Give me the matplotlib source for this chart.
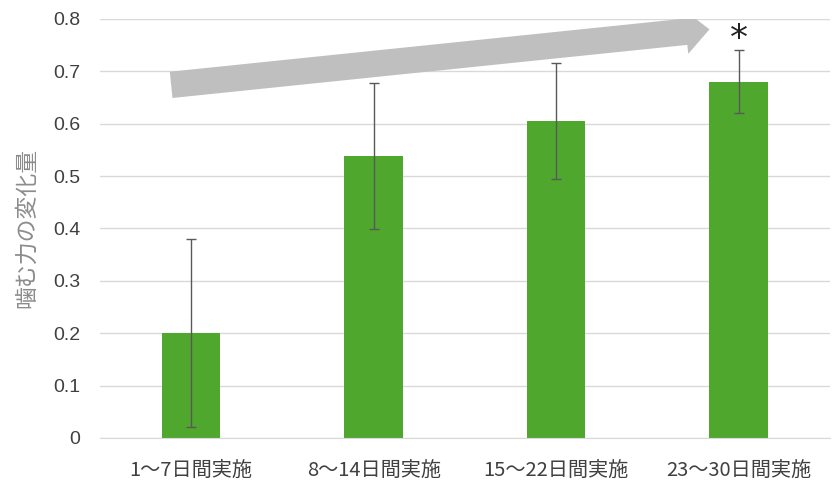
import matplotlib
matplotlib.use("Agg")
import matplotlib.pyplot as plt
from matplotlib.patches import FancyArrowPatch

plt.rcParams['font.family'] = ['Noto Sans CJK JP', 'DejaVu Sans']

categories = ['1～7日間実施', '8～14日間実施', '15～22日間実施', '23～30日間実施']
means = [0.200, 0.538, 0.605, 0.680]
errors = [0.180, 0.139, 0.110, 0.060]
ylabel = '噛む力の変化量'

fig = plt.figure(figsize=(8.4, 4.96), dpi=100)
ax = fig.add_axes([0.119, 0.117, 0.869, 0.845])

x = range(len(categories))
ax.bar(x, means, width=0.32, color='#4fa72e', zorder=2)
ax.errorbar(x, means, yerr=errors, fmt='none', ecolor='#595959',
            elinewidth=1, capsize=3.6, capthick=1, zorder=3)

ax.set_xlim(-0.5, 3.5)
ax.set_ylim(0, 0.8)
ax.set_yticks([0, 0.1, 0.2, 0.3, 0.4, 0.5, 0.6, 0.7, 0.8])
ax.set_yticklabels(['0', '0.1', '0.2', '0.3', '0.4', '0.5', '0.6', '0.7', '0.8'],
                   fontfamily='Liberation Sans', fontsize=14)
ax.set_xticks(list(x))
ax.set_xticklabels(categories, fontsize=14.5)
ax.tick_params(axis='both', length=0, colors='#404040')
ax.tick_params(axis='x', pad=16)
ax.tick_params(axis='y', pad=14)
ax.yaxis.grid(True, color='#d9d9d9', linewidth=1, zorder=0)
ax.set_axisbelow(True)
for s in ['top', 'right', 'left']:
    ax.spines[s].set_visible(False)
ax.spines['bottom'].set_color('#d9d9d9')

ax.set_ylabel(ylabel, fontsize=16.5, color='#8c8c8c', labelpad=11)

# trend arrow
arrow = FancyArrowPatch((-0.11, 0.674), (2.84, 0.780),
                        arrowstyle='simple,head_width=32,head_length=17,tail_width=19',
                        mutation_scale=1, color='#bfbfbf', lw=0, zorder=4,
                        shrinkA=0, shrinkB=0)
ax.add_patch(arrow)

ax.text(3.0, 0.742, '*', ha='center', va='baseline', fontsize=26,
        fontfamily='DejaVu Sans', color='#222222')

fig.savefig('out.png', dpi=100)
